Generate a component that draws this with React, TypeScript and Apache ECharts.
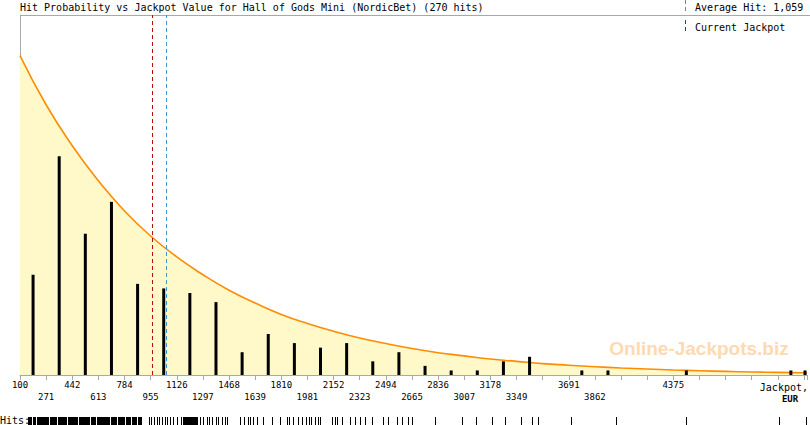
import React, { useEffect, useRef } from "react";
import * as echarts from "echarts";

// ---- data ----
const X_MIN = 100;
const X_STEP = 171;
const X_MAX = 5250;
const Y_MAX = 79;

// hits per 171-EUR bin, starting at 100
const binCounts = [22, 48, 31, 38, 20, 19, 18, 16, 5, 9, 7, 6, 7, 3, 5, 2, 1, 1, 3, 4, 0, 1, 1, 0, 0, 1, 0, 0, 0, 1, 1];

// probability curve (scaled to hits), read at each tick
const curveX = [100, 271, 442, 613, 784, 955, 1126, 1297, 1468, 1639, 1810, 1981, 2152, 2323, 2494, 2665, 2836, 3007, 3178, 3349, 3520, 3691, 3862, 4033, 4204, 4375, 4546, 4717, 4888, 5059, 5230, 5250];
const curveY = [70.1, 59.3, 50.3, 42.6, 36.0, 30.5, 25.9, 22.0, 18.6, 15.8, 13.3, 11.3, 9.6, 8.1, 6.9, 5.8, 4.9, 4.2, 3.5, 3.0, 2.5, 2.15, 1.82, 1.54, 1.31, 1.11, 0.94, 0.79, 0.67, 0.57, 0.48, 0.47];

const averageHit = 1059;
const currentJackpot = 967;

const labelsRow1 = [100, 442, 784, 1126, 1468, 1810, 2152, 2494, 2836, 3178, 3691, 4375];
const labelsRow2 = [271, 613, 955, 1297, 1639, 1981, 2323, 2665, 3007, 3349, 3862];

// rug of individual hits (EUR): dense spans and single hits
const rugBlocks = [
  [154, 174], [187, 200], [213, 285], [298, 337], [351, 403], [416, 475], [488, 553], [566, 593],
  [606, 684], [697, 730], [743, 782], [795, 821], [835, 861], [874, 893], [1168, 1260],
];
const rugHits = [
  946, 959, 978, 998, 1011, 1031, 1050, 1063, 1083, 1103, 1129, 1149,
  1279, 1299, 1319, 1338, 1358, 1378, 1397, 1417, 1437, 1450,
  1535, 1567, 1587, 1606, 1626, 1652, 1685, 1750, 1796, 1848, 1861, 1881, 1914, 1946, 1966, 1986,
  2005, 2025, 2045, 2058, 2136, 2156, 2169, 2202, 2254, 2287, 2320, 2352, 2398, 2470, 2503, 2561,
  2594, 2634, 2660, 2810, 2987, 3078, 3183, 3268, 3373, 3445, 3484, 3700, 3994, 4452, 5060, 5237,
];

const titleText = "Hit Probability vs Jackpot Value for Hall of Gods Mini (NordicBet) (270 hits)";

const MONO = "'DejaVu Sans Mono', monospace";

export default function App() {
  const ref = useRef<HTMLDivElement>(null);

  useEffect(() => {
    document.body.style.margin = "0";
    if (!ref.current) return;
    const chart = echarts.init(ref.current, undefined, { renderer: "svg" });

    const lastHit = Math.max(...rugHits);
    const barData = binCounts
      .map((c, i) => [Math.min(X_MIN + X_STEP * i + X_STEP / 2, lastHit) - X_MIN, c])
      .filter((d) => d[1] > 0);
    const lineData = curveX.map((x, i) => [x - X_MIN, curveY[i]]);
    const rugData = [
      ...rugBlocks.map((b) => [b[0] - X_MIN, b[1] - X_MIN]),
      ...rugHits.map((h) => [h - X_MIN, h - X_MIN]),
    ];

    const grey = "#A8A8A8";

    chart.setOption({
      animation: false,
      grid: [
        { left: 20, width: 788, top: 15, height: 360 },
        { left: 20, width: 788, top: 417, height: 8 },
      ],
      xAxis: [
        {
          type: "value",
          gridIndex: 0,
          min: 0,
          max: X_MAX - X_MIN,
          interval: X_STEP,
          axisLine: { show: true, lineStyle: { color: grey, width: 1 } },
          axisTick: { show: true, length: 5, lineStyle: { color: grey } },
          splitLine: { show: false },
          axisLabel: {
            fontFamily: MONO,
            fontSize: 9,
            color: "#000",
            lineHeight: 12,
            margin: 4,
            showMinLabel: true,
            showMaxLabel: true,
            formatter: (val: number) => {
              const v = Math.round(val + X_MIN);
              if (labelsRow1.includes(v)) return String(v);
              if (labelsRow2.includes(v)) return "\n" + v;
              return "";
            },
          },
        },
        {
          type: "value",
          gridIndex: 1,
          min: 0,
          max: X_MAX - X_MIN,
          show: false,
        },
      ],
      yAxis: [
        {
          type: "value",
          gridIndex: 0,
          min: 0,
          max: Y_MAX,
          axisLine: { show: true, lineStyle: { color: grey, width: 1 } },
          axisTick: { show: false },
          axisLabel: { show: false },
          splitLine: { show: false },
        },
        { type: "value", gridIndex: 1, min: 0, max: 1, show: false },
      ],
      series: [
        {
          type: "line",
          xAxisIndex: 0,
          yAxisIndex: 0,
          data: lineData,
          smooth: true,
          showSymbol: false,
          symbol: "none",
          lineStyle: { color: "#FF8C00", width: 1.6 },
          areaStyle: { color: "#FFF8C8", opacity: 1 },
          z: 1,
        },
        {
          type: "bar",
          xAxisIndex: 0,
          yAxisIndex: 0,
          data: barData,
          barWidth: 3,
          itemStyle: { color: "#000" },
          z: 3,
          markLine: {
            silent: true,
            symbol: ["none", "none"],
            label: { show: false },
            data: [
              { xAxis: currentJackpot - X_MIN, lineStyle: { color: "#B81010", width: 1, type: [4, 3] } },
              { xAxis: averageHit - X_MIN, lineStyle: { color: "#3C98CC", width: 1, type: [4, 3] } },
            ],
          },
        },
        {
          type: "custom",
          xAxisIndex: 1,
          yAxisIndex: 1,
          data: rugData,
          clip: false,
          renderItem: (_params: any, api: any) => {
            const a = api.coord([api.value(0), 0]);
            const b = api.coord([api.value(1), 1]);
            const x0 = Math.round(a[0]) - 0;
            const w = Math.max(1, Math.round(b[0]) - x0 + 1);
            return {
              type: "rect",
              shape: { x: x0, y: b[1], width: w, height: a[1] - b[1] },
              style: { fill: "#000" },
            };
          },
        },
      ],
      graphic: [
        {
          type: "line",
          shape: { x1: 20, y1: 15.5, x2: 810, y2: 15.5 },
          style: { stroke: grey, lineWidth: 1 },
          silent: true,
        },
        {
          type: "text",
          x: 20,
          y: 7,
          style: { text: titleText, font: `10px ${MONO}`, fill: "#000", textAlign: "left", verticalAlign: "middle" },
        },
        {
          type: "line",
          shape: { x1: 685.5, y1: 0, x2: 685.5, y2: 12 },
          style: { stroke: "#3C98CC", lineWidth: 1, lineDash: [4, 3] },
        },
        {
          type: "text",
          x: 695,
          y: 7,
          style: { text: "Average Hit: 1,059", font: `10px ${MONO}`, fill: "#000", textAlign: "left", verticalAlign: "middle" },
        },
        {
          type: "line",
          shape: { x1: 685.5, y1: 20, x2: 685.5, y2: 33 },
          style: { stroke: "#B81010", lineWidth: 1, lineDash: [4, 3] },
        },
        {
          type: "text",
          x: 695,
          y: 27,
          style: { text: "Current Jackpot", font: `10px ${MONO}`, fill: "#000", textAlign: "left", verticalAlign: "middle" },
        },
        {
          type: "text",
          x: 699,
          y: 348,
          z: 0,
          style: {
            text: "Online-Jackpots.biz",
            font: "bold 19px 'Liberation Sans', Arial, sans-serif",
            fill: "#FFD9B0",
            textAlign: "center",
            verticalAlign: "middle",
          },
        },
        {
          type: "text",
          x: 808,
          y: 387,
          style: { text: "Jackpot,", font: `10px ${MONO}`, fill: "#000", textAlign: "right", verticalAlign: "middle" },
        },
        {
          type: "text",
          x: 790,
          y: 398.5,
          style: { text: "EUR", font: `bold 9px ${MONO}`, fill: "#000", textAlign: "center", verticalAlign: "middle" },
        },
        {
          type: "text",
          x: 0,
          y: 420.5,
          style: { text: "Hits:", font: `10px ${MONO}`, fill: "#000", textAlign: "left", verticalAlign: "middle" },
        },
      ],
    });

    return () => chart.dispose();
  }, []);

  return <div ref={ref} style={{ width: 810, height: 425 }} />;
}
